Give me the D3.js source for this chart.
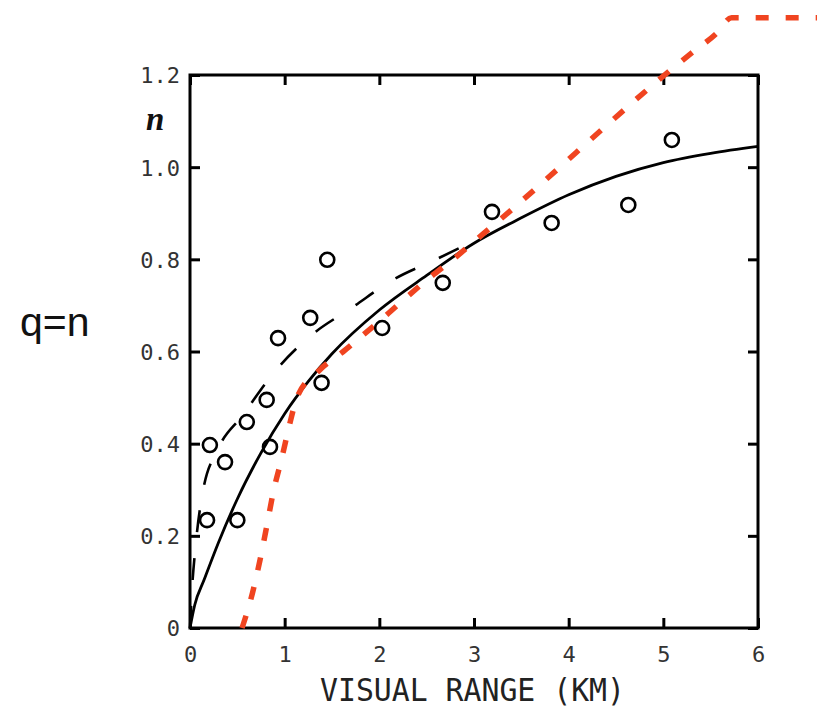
<!DOCTYPE html>
<html>
<head>
<meta charset="utf-8">
<script src="https://cdn.jsdelivr.net/npm/d3@7"></script>
<style>
  html, body { margin: 0; padding: 0; background: #fff; }
  svg { display: block; }
</style>
</head>
<body>
<svg id="chart" width="817" height="709"></svg>
<script>
// ---- data ----
const obsX = [0.18, 0.21, 0.37, 0.50, 0.60, 0.81, 0.845, 0.93, 1.27, 1.39, 1.45, 2.03, 2.67, 3.19, 3.82, 4.63, 5.09];
const obsY = [0.234, 0.397, 0.36, 0.234, 0.447, 0.495, 0.393, 0.629, 0.673, 0.532, 0.799, 0.651, 0.749, 0.903, 0.879, 0.918, 1.059];

const fitX = [0, 0.05, 0.15, 0.3, 0.5, 0.75, 1.0, 1.25, 1.5, 2.0, 2.5, 3.0, 3.5, 4.0, 4.5, 5.0, 5.5, 6.0];
const fitY = [0, 0.05, 0.105, 0.185, 0.28, 0.38, 0.465, 0.535, 0.595, 0.69, 0.765, 0.835, 0.89, 0.94, 0.98, 1.01, 1.03, 1.045];

const dashX = [0.0, 0.02, 0.06, 0.13, 0.30, 0.55, 0.91, 1.28, 1.71, 2.14, 2.60, 3.10];
const dashY = [0.0, 0.08, 0.18, 0.29, 0.39, 0.46, 0.56, 0.635, 0.695, 0.755, 0.80, 0.85];

const qX = [0.55, 0.66, 0.74, 0.81, 0.88, 0.97, 1.05, 1.13, 1.37, 1.62, 1.83, 2.08, 2.30, 2.53, 2.78, 3.01, 3.24, 5.30, 5.56, 5.72, 6.65];
const qY = [0.0, 0.076, 0.148, 0.22, 0.295, 0.369, 0.44, 0.50, 0.56, 0.60, 0.636, 0.68, 0.72, 0.76, 0.80, 0.84, 0.88, 1.248, 1.29, 1.324, 1.324];

const xTicks = [0, 1, 2, 3, 4, 5, 6];
const yTicks = [0, 0.2, 0.4, 0.6, 0.8, 1.0, 1.2];
const yTickLabels = ["0", "0.2", "0.4", "0.6", "0.8", "1.0", "1.2"];
const xTitle = "VISUAL RANGE (KM)";
const yLabel = "n";
const sideLabel = "q=n";

// ---- layout ----
const L = 190, R = 758, T = 75, B = 628;
const svg = d3.select("#chart");
const x = d3.scaleLinear().domain([0, 6]).range([L, R]);
const y = d3.scaleLinear().domain([0, 1.2]).range([B, T]);

const tickFont = "'DejaVu Sans Mono', monospace";

const gB = svg.append("g").attr("transform", `translate(0,${B})`)
  .call(d3.axisBottom(x).tickValues(xTicks).tickSizeInner(-10).tickSizeOuter(0).tickPadding(18).tickFormat(d3.format("d")));
const gT = svg.append("g").attr("transform", `translate(0,${T})`)
  .call(d3.axisTop(x).tickValues(xTicks).tickSizeInner(-10).tickSizeOuter(0).tickFormat(""));
const gL = svg.append("g").attr("transform", `translate(${L},0)`)
  .call(d3.axisLeft(y).tickValues(yTicks).tickSizeInner(-10).tickSizeOuter(0).tickPadding(10)
    .tickFormat((d, i) => yTickLabels[i]));
const gR = svg.append("g").attr("transform", `translate(${R},0)`)
  .call(d3.axisRight(y).tickValues(yTicks).tickSizeInner(-10).tickSizeOuter(0).tickFormat(""));

[gB, gT, gL, gR].forEach(g => {
  g.select(".domain").remove();
  g.selectAll(".tick line").attr("stroke", "#000").attr("stroke-width", 3);
  g.selectAll(".tick text").attr("font-family", tickFont).attr("font-size", 22).attr("fill", "#333");
});
gL.selectAll(".tick text").attr("dy", "0.36em");

svg.append("rect").attr("x", L).attr("y", T).attr("width", R - L).attr("height", B - T)
  .attr("fill", "none").attr("stroke", "#000").attr("stroke-width", 3);

const line = d3.line().x(d => x(d[0])).y(d => y(d[1])).curve(d3.curveMonotoneX);

svg.append("path").datum(fitX.map((v, i) => [v, fitY[i]]))
  .attr("d", line).attr("fill", "none").attr("stroke", "#000").attr("stroke-width", 2.8);

svg.append("path").datum(dashX.map((v, i) => [v, dashY[i]]))
  .attr("d", line).attr("fill", "none").attr("stroke", "#000").attr("stroke-width", 2.6)
  .attr("stroke-dasharray", "22,26");

svg.append("path").datum(qX.map((v, i) => [v, qY[i]]))
  .attr("d", line)
  .attr("fill", "none").attr("stroke", "#f04420").attr("stroke-width", 5.5)
  .attr("stroke-dasharray", "13,17");

svg.append("g").selectAll("circle").data(obsX.map((v, i) => [v, obsY[i]])).join("circle")
  .attr("cx", d => x(d[0])).attr("cy", d => y(d[1])).attr("r", 7)
  .attr("fill", "none").attr("stroke", "#000").attr("stroke-width", 2.6);

svg.append("text").attr("x", 320).attr("y", 701)
  .attr("font-family", tickFont).attr("font-size", 32)
  .attr("textLength", 305).attr("lengthAdjust", "spacingAndGlyphs")
  .attr("fill", "#222").text(xTitle);

svg.append("text").attr("x", 146).attr("y", 130)
  .attr("font-family", "'Liberation Serif', serif").attr("font-weight", "bold").attr("font-style", "italic")
  .attr("font-size", 33).attr("fill", "#111").text(yLabel);

svg.append("text").attr("x", 20).attr("y", 336)
  .attr("font-family", "'Liberation Sans', Arial, sans-serif").attr("font-size", 41)
  .attr("fill", "#111").text(sideLabel);
</script>
</body>
</html>
